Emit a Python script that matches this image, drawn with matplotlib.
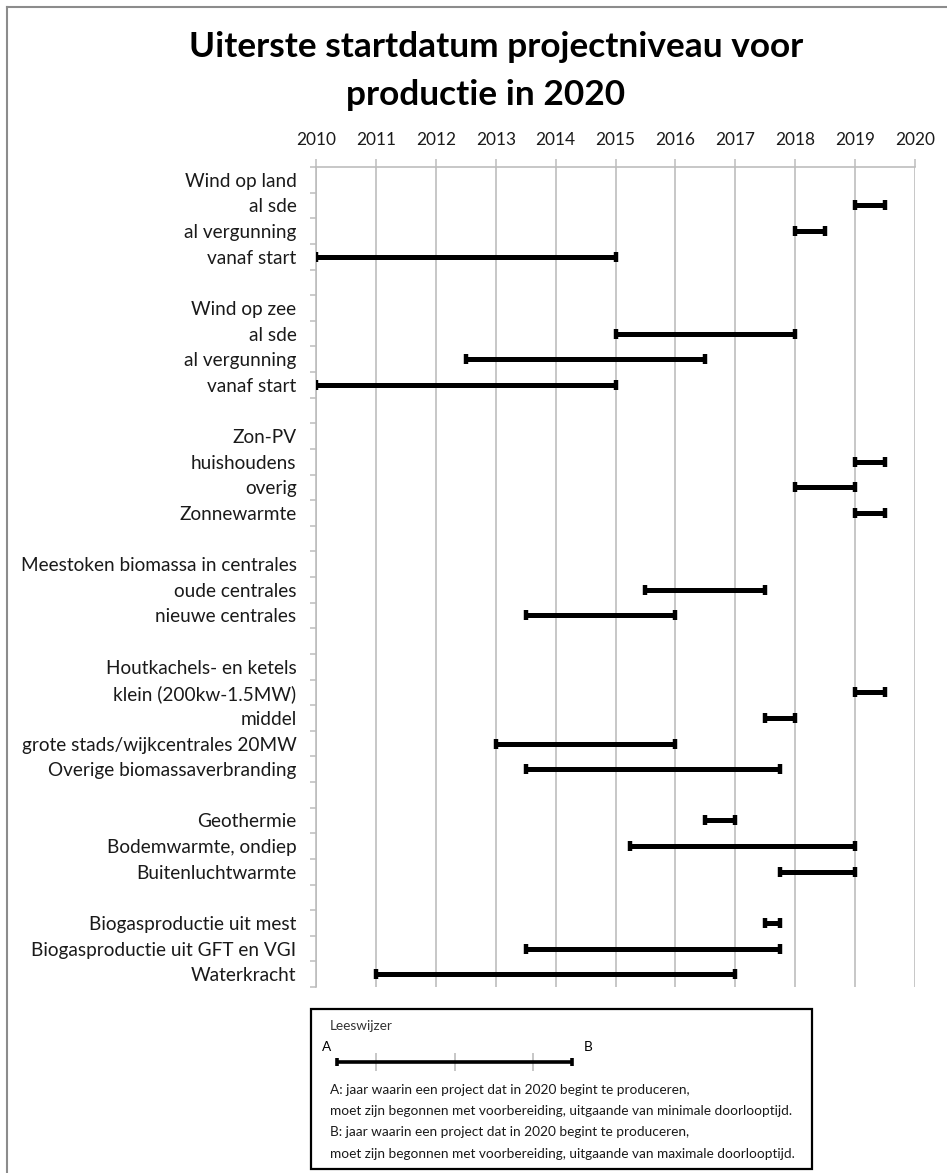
import numpy as np
import matplotlib
matplotlib.use("Agg")
import matplotlib.pyplot as plt
from matplotlib.lines import Line2D
from matplotlib.patches import Rectangle

# ---------------- data ----------------
categories = [
    "Wind op land", "al sde", "al vergunning", "vanaf start", "",
    "Wind op zee", "al sde", "al vergunning", "vanaf start", "",
    "Zon-PV", "huishoudens", "overig", "Zonnewarmte", "",
    "Meestoken biomassa in centrales", "oude centrales", "nieuwe centrales", "",
    "Houtkachels- en ketels", "klein (200kw-1.5MW)", "middel",
    "grote stads/wijkcentrales 20MW", "Overige biomassaverbranding", "",
    "Geothermie", "Bodemwarmte, ondiep", "Buitenluchtwarmte", "",
    "Biogasproductie uit mest", "Biogasproductie uit GFT en VGI", "Waterkracht",
]
nan = np.nan
start_year = [nan, 2019, 2018, 2010, nan,
              nan, 2015, 2012.5, 2010, nan,
              nan, 2019, 2018, 2019, nan,
              nan, 2015.5, 2013.5, nan,
              nan, 2019, 2017.5, 2013, 2013.5, nan,
              2016.5, 2015.25, 2017.75, nan,
              2017.5, 2013.5, 2011]
end_year = [nan, 2019.5, 2018.5, 2015, nan,
            nan, 2018, 2016.5, 2015, nan,
            nan, 2019.5, 2019, 2019.5, nan,
            nan, 2017.5, 2016, nan,
            nan, 2019.5, 2018, 2016, 2017.75, nan,
            2017, 2019, 2019, nan,
            2017.75, 2017.75, 2017]
year_ticks = list(range(2010, 2021))
title_lines = ["Uiterste startdatum projectniveau voor", "productie in 2020"]
legend_title = "Leeswijzer"
legend_lines = [
    "A: jaar waarin een project dat in 2020 begint te produceren,",
    "moet zijn begonnen met voorbereiding, uitgaande van minimale doorlooptijd.",
    "B: jaar waarin een project dat in 2020 begint te produceren,",
    "moet zijn begonnen met voorbereiding, uitgaande van maximale doorlooptijd.",
]

# ---------------- layout helpers ----------------
W, H = 947, 1173
FONT = "Lato"
TXT = "#1a1a1a"
GRID = "#bdbdbd"


def fx(px):
    return px / W


def fy(py):
    return 1 - py / H


fig = plt.figure(figsize=(W / 100, H / 100), dpi=100)
renderer = fig.canvas.get_renderer()


def fit_size(text, target_px, weight="normal", base=12):
    t = fig.text(0, 0, text, fontsize=base, family=FONT, fontweight=weight)
    w = t.get_window_extent(renderer).width
    t.remove()
    return base * target_px / w


lab_fs = fit_size("Meestoken biomassa in centrales", 275)
tick_fs = fit_size("2019", 40)
leg_fs = fit_size(legend_lines[3], 462)
title_fs = fit_size(title_lines[0], 610, weight="bold")

# figure border (left/top visible)
fig.add_artist(Line2D([fx(7), fx(7)], [fy(7), 0], color="#8c8c8c", lw=1.5))
fig.add_artist(Line2D([fx(7), 1], [fy(7), fy(7)], color="#8c8c8c", lw=1.5))

# title
fig.text(fx(496), fy(47), title_lines[0], ha="center", va="center",
         fontsize=title_fs, fontweight="bold", family=FONT, color="black")
fig.text(fx(486), fy(95), title_lines[1], ha="center", va="center",
         fontsize=title_fs, fontweight="bold", family=FONT, color="black")

# ---------------- main axes ----------------
ax = fig.add_axes([fx(316), fy(987), fx(915) - fx(316), fy(167) - fy(987)])
n = len(categories)
rows = np.arange(n)
ax.set_xlim(2010, 2020)
ax.set_ylim(n - 0.5, -0.5)

ax.xaxis.tick_top()
ax.set_xticks(year_ticks)
ax.set_xticklabels([str(y) for y in year_ticks], fontsize=tick_fs, family=FONT, color=TXT)
ax.tick_params(axis="x", which="major", length=6, width=1.1, color=GRID, pad=8)
ax.grid(axis="x", color=GRID, lw=1.2)
ax.set_axisbelow(True)

ax.set_yticks(rows)
ax.set_yticklabels(categories, fontsize=lab_fs, family=FONT, color=TXT)
ax.set_yticks(np.arange(-0.5, n, 1.0), minor=True)
ax.tick_params(axis="y", which="major", length=0, pad=14)
ax.tick_params(axis="y", which="minor", length=4, width=1.1, color=GRID)

for s in ["bottom", "right"]:
    ax.spines[s].set_visible(False)
for s in ["top", "left"]:
    ax.spines[s].set_color(GRID)
    ax.spines[s].set_linewidth(1.2)

s = np.array(start_year, dtype=float)
e = np.array(end_year, dtype=float)
ok = ~np.isnan(s)
ax.hlines(rows[ok], s[ok], e[ok], color="black", lw=3.6, capstyle="butt", zorder=3)
ax.plot(s[ok], rows[ok], ls="none", marker="|", ms=7.5, mew=3.2, color="black", zorder=4)
ax.plot(e[ok], rows[ok], ls="none", marker="|", ms=7.5, mew=3.2, color="black", zorder=4)

# ---------------- reading guide box ----------------
fig.add_artist(Rectangle((fx(311), fy(1169)), fx(812) - fx(311), fy(1009) - fy(1169),
                         fill=False, ec="black", lw=1.6))
fig.text(fx(330), fy(1026), legend_title, ha="left", va="center",
         fontsize=leg_fs, family=FONT, color="#333333")
fig.text(fx(327), fy(1047), "A", ha="center", va="center", fontsize=leg_fs, family=FONT, color="black")
fig.text(fx(588), fy(1047), "B", ha="center", va="center", fontsize=leg_fs, family=FONT, color="black")
for i, line in enumerate(legend_lines):
    fig.text(fx(330), fy(1090 + i * 21.2), line, ha="left", va="center",
             fontsize=leg_fs, family=FONT, color=TXT)

gx = fig.add_axes([fx(337), fy(1071), fx(572) - fx(337), fy(1053) - fy(1071)])
gx.set_xlim(0, 3)
gx.set_ylim(-1, 1)
gx.axis("off")
for g in [0.5, 1.5, 2.5]:
    gx.axvline(g, color=GRID, lw=1.2, zorder=1)
gx.hlines([0], [0], [3], color="black", lw=2.6, capstyle="butt", zorder=3)
gx.plot([0, 3], [0, 0], ls="none", marker="|", ms=6, mew=2.6, color="black", zorder=4, clip_on=False)

fig.savefig("out.png", dpi=100)
